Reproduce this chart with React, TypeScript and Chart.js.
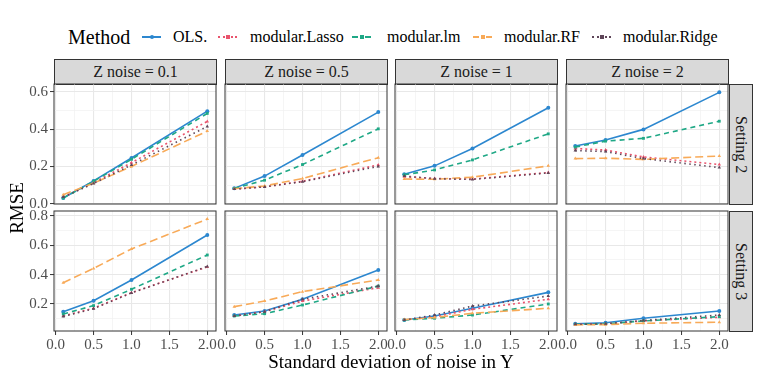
import React, { useEffect, useRef } from 'react';
import { Chart, registerables } from 'chart.js';
Chart.register(...registerables);

// ---------- data ----------
const methods = ['OLS.', 'modular.Lasso', 'modular.lm', 'modular.RF', 'modular.Ridge'];
const zNoiseLabels = ['Z noise = 0.1', 'Z noise = 0.5', 'Z noise = 1', 'Z noise = 2'];
const settingLabels = ['Setting 2', 'Setting 3'];
const xValues = [0.1, 0.5, 1, 2];
const xMajorTicks = [0, 0.5, 1, 1.5, 2];
const xMinorTicks = [0.25, 0.75, 1.25, 1.75];
const yMajorTicksS2 = [0, 0.2, 0.4, 0.6];
const yMinorTicksS2 = [0.1, 0.3, 0.5];
const yMajorTicksS3 = [0.2, 0.4, 0.6, 0.8];
const yMinorTicksS3 = [0.1, 0.3, 0.5, 0.7];

// Setting 2: one row per Z noise panel (0.1, 0.5, 1, 2), values at x = 0.1, 0.5, 1, 2
const olsS2 = [[0.03, 0.122, 0.245, 0.497], [0.082, 0.148, 0.261, 0.492], [0.158, 0.203, 0.296, 0.515], [0.31, 0.342, 0.399, 0.598]];
const lassoS2 = [[0.035, 0.113, 0.22, 0.442], [0.078, 0.09, 0.12, 0.208], [0.145, 0.135, 0.132, 0.167], [0.296, 0.288, 0.251, 0.21]];
const lmS2 = [[0.03, 0.12, 0.238, 0.485], [0.082, 0.126, 0.21, 0.402], [0.155, 0.181, 0.235, 0.375], [0.304, 0.336, 0.351, 0.443]];
const rfS2 = [[0.048, 0.11, 0.2, 0.39], [0.08, 0.095, 0.135, 0.247], [0.132, 0.131, 0.142, 0.203], [0.242, 0.244, 0.238, 0.256]];
const ridgeS2 = [[0.035, 0.108, 0.208, 0.415], [0.078, 0.09, 0.118, 0.2], [0.148, 0.134, 0.13, 0.165], [0.285, 0.28, 0.242, 0.194]];

// Setting 3
const olsS3 = [[0.148, 0.222, 0.363, 0.669], [0.125, 0.152, 0.232, 0.431], [0.091, 0.118, 0.171, 0.279], [0.065, 0.073, 0.103, 0.152]];
const lassoS3 = [[0.118, 0.171, 0.277, 0.452], [0.118, 0.148, 0.22, 0.311], [0.091, 0.113, 0.164, 0.232], [0.062, 0.065, 0.085, 0.11]];
const lmS3 = [[0.132, 0.189, 0.3, 0.533], [0.118, 0.134, 0.193, 0.322], [0.091, 0.103, 0.125, 0.2], [0.062, 0.065, 0.085, 0.114]];
const rfS3 = [[0.345, 0.442, 0.574, 0.777], [0.182, 0.22, 0.284, 0.363], [0.094, 0.108, 0.137, 0.171], [0.058, 0.06, 0.069, 0.076]];
const ridgeS3 = [[0.115, 0.168, 0.275, 0.455], [0.118, 0.148, 0.232, 0.322], [0.091, 0.125, 0.186, 0.254], [0.062, 0.066, 0.088, 0.125]];

const seriesBySetting = [
  [olsS2, lassoS2, lmS2, rfS2, ridgeS2],
  [olsS3, lassoS3, lmS3, rfS3, ridgeS3],
];

// ---------- styles ----------
const colors = ['#2C87CF', '#E9546D', '#1FA886', '#F8AA58', '#5F4659'];
const dashes: number[][] = [[], [2, 3], [5, 4], [8, 4], [1.5, 3.5]];
const keyStyles = ['solid', 'dotted', 'dashed', 'dashed', 'dotted'];
const pointStyles = ['circle', 'triangle', 'rect', 'triangle', 'triangle'];
const SERIF = "'Liberation Serif', 'Times New Roman', Times, serif";

const panelLefts = [54, 225, 395, 566];
const panelTops = [84, 211];
const PW = 162;
const PH = 120;
const M = 14;
const YAXW = 44;
const XAXH = 26;
const xRange = [-0.022, 2.115];
const yRanges = [[-0.002, 0.643], [0.0165, 0.832]];

const near = (a: number, list: number[]) => list.some((v) => Math.abs(v - a) < 1e-6);

const panelBorder = {
  id: 'panelBorder',
  afterDraw(chart: any) {
    const { ctx, chartArea: a } = chart;
    ctx.save();
    ctx.strokeStyle = '#333333';
    ctx.lineWidth = 1;
    ctx.strokeRect(a.left, a.top, a.right - a.left, a.bottom - a.top);
    ctx.restore();
  },
};

function Panel({ r, c }: { r: number; c: number }) {
  const ref = useRef<HTMLCanvasElement>(null);
  const showY = c === 0;
  const showX = r === 1;
  const yW = showY ? YAXW : 0;
  const xH = showX ? XAXH : 0;
  const width = PW + 2 * M + yW;
  const height = PH + 2 * M + xH;
  const left = panelLefts[c] - M - yW;
  const top = panelTops[r] - M;

  useEffect(() => {
    const yMaj = r === 0 ? yMajorTicksS2 : yMajorTicksS3;
    const yMin = r === 0 ? yMinorTicksS2 : yMinorTicksS3;
    const xAll = [...xMajorTicks, ...xMinorTicks].sort((a, b) => a - b);
    const yAll = [...yMaj, ...yMin].sort((a, b) => a - b);
    const chart = new Chart(ref.current as HTMLCanvasElement, {
      type: 'line',
      data: {
        datasets: methods.map((m, i) => ({
          label: m,
          data: xValues.map((x, k) => ({ x, y: seriesBySetting[r][i][c][k] })),
          borderColor: colors[i],
          backgroundColor: colors[i],
          borderWidth: 1.6,
          borderDash: dashes[i],
          pointStyle: pointStyles[i] as any,
          pointRadius: 2,
          pointBorderWidth: 0,
          tension: 0,
          fill: false,
          order: 5 - i,
        })),
      },
      options: {
        animation: false,
        responsive: false,
        events: [],
        layout: { padding: { left: M, right: M, top: M, bottom: M } },
        plugins: { legend: { display: false }, tooltip: { enabled: false } },
        scales: {
          x: {
            type: 'linear',
            min: xRange[0],
            max: xRange[1],
            afterBuildTicks: (s: any) => {
              s.ticks = xAll.map((v) => ({ value: v }));
            },
            afterFit: (s: any) => {
              s.height = xH;
            },
            border: { display: false },
            grid: {
              color: (ctx: any) => (ctx.tick && near(ctx.tick.value, xMajorTicks) ? '#e8e8e8' : '#f3f3f3'),
              lineWidth: (ctx: any) => (ctx.tick && near(ctx.tick.value, xMajorTicks) ? 1.1 : 0.8),
              drawTicks: showX,
              tickLength: 4,
              tickColor: (ctx: any) => (ctx.tick && near(ctx.tick.value, xMajorTicks) ? '#333333' : 'rgba(0,0,0,0)'),
              tickWidth: 1,
            } as any,
            ticks: {
              display: showX,
              autoSkip: false,
              maxRotation: 0,
              padding: 1,
              color: '#4d4d4d',
              font: { family: SERIF, size: 15 },
              callback: (v: any) => (near(Number(v), xMajorTicks) ? Number(v).toFixed(1) : ''),
            },
          },
          y: {
            type: 'linear',
            min: yRanges[r][0],
            max: yRanges[r][1],
            afterBuildTicks: (s: any) => {
              s.ticks = yAll.map((v) => ({ value: v }));
            },
            afterFit: (s: any) => {
              s.width = yW;
            },
            border: { display: false },
            grid: {
              color: (ctx: any) => (ctx.tick && near(ctx.tick.value, yMaj) ? '#e8e8e8' : '#f3f3f3'),
              lineWidth: (ctx: any) => (ctx.tick && near(ctx.tick.value, yMaj) ? 1.1 : 0.8),
              drawTicks: showY,
              tickLength: 4,
              tickColor: (ctx: any) => (ctx.tick && near(ctx.tick.value, yMaj) ? '#333333' : 'rgba(0,0,0,0)'),
              tickWidth: 1,
            } as any,
            ticks: {
              display: showY,
              autoSkip: false,
              padding: 2,
              color: '#4d4d4d',
              font: { family: SERIF, size: 15 },
              callback: (v: any) => (near(Number(v), yMaj) ? Number(v).toFixed(1) : ''),
            },
          },
        },
      },
      plugins: [panelBorder],
    } as any);
    return () => chart.destroy();
  }, [r, c]);

  return (
    <canvas
      ref={ref}
      width={width}
      height={height}
      style={{ position: 'absolute', left, top, width, height }}
    />
  );
}

const legendKeyLefts = [142, 218, 352, 473, 592];
const legendTextLefts = [173, 250, 387, 504, 623];

const textBase: React.CSSProperties = {
  position: 'absolute',
  fontFamily: SERIF,
  fontWeight: 400,
  whiteSpace: 'nowrap',
};

export default function App() {
  useEffect(() => {
    document.body.style.margin = '0';
  }, []);
  const panels: { r: number; c: number }[] = [];
  for (let r = 0; r < 2; r++) for (let c = 0; c < 4; c++) panels.push({ r, c });

  return (
    <div
      style={{
        position: 'fixed',
        left: 0,
        top: 0,
        width: 761,
        height: 381,
        background: '#ffffff',
        fontFamily: SERIF,
        overflow: 'hidden',
      }}
    >
      {/* legend */}
      <div style={{ ...textBase, left: 68, top: 25, fontSize: 20, lineHeight: '24px', color: '#000' }}>Method</div>
      {methods.map((m, i) => (
        <React.Fragment key={m}>
          <div
            style={{
              position: 'absolute',
              left: legendKeyLefts[i],
              top: 36,
              width: 19,
              height: 0,
              borderTop: `2px ${keyStyles[i]} ${colors[i]}`,
            }}
          />
          <div
            style={{
              position: 'absolute',
              left: legendKeyLefts[i] + 8,
              top: 35,
              width: 4,
              height: 4,
              borderRadius: i === 0 ? 2 : 0,
              background: colors[i],
            }}
          />
          <div style={{ ...textBase, left: legendTextLefts[i], top: 27, fontSize: 16, lineHeight: '20px', color: '#000' }}>
            {m}
          </div>
        </React.Fragment>
      ))}

      {/* top strips */}
      {zNoiseLabels.map((z, c) => (
        <div
          key={z}
          style={{
            ...textBase,
            left: panelLefts[c],
            top: 59,
            width: PW + 1,
            height: 26,
            boxSizing: 'border-box',
            border: '1px solid #333333',
            background: '#d9d9d9',
            color: '#1a1a1a',
            fontSize: 16,
            lineHeight: '24px',
            textAlign: 'center',
          }}
        >
          {z}
        </div>
      ))}

      {/* right strips */}
      {settingLabels.map((s, r) => (
        <div
          key={s}
          style={{
            ...textBase,
            left: panelLefts[3] + PW + 1,
            top: panelTops[r],
            width: 24,
            height: PH + 1,
            boxSizing: 'border-box',
            border: '1px solid #333333',
            background: '#d9d9d9',
            color: '#1a1a1a',
            fontSize: 16,
            display: 'flex',
            alignItems: 'center',
            justifyContent: 'center',
          }}
        >
          <span style={{ writingMode: 'vertical-rl', whiteSpace: 'nowrap', fontFamily: SERIF }}>{s}</span>
        </div>
      ))}

      {panels.map((p) => (
        <Panel key={`${p.r}-${p.c}`} r={p.r} c={p.c} />
      ))}

      {/* axis titles */}
      <div
        style={{
          ...textBase,
          left: 17 - 60,
          top: 208 - 12,
          width: 120,
          height: 24,
          lineHeight: '24px',
          textAlign: 'center',
          fontSize: 19,
          color: '#000',
          transform: 'rotate(-90deg)',
        }}
      >
        RMSE
      </div>
      <div
        style={{
          ...textBase,
          left: 54,
          top: 350,
          width: 674,
          height: 24,
          lineHeight: '24px',
          textAlign: 'center',
          fontSize: 19,
          color: '#000',
        }}
      >
        Standard deviation of noise in Y
      </div>
    </div>
  );
}
